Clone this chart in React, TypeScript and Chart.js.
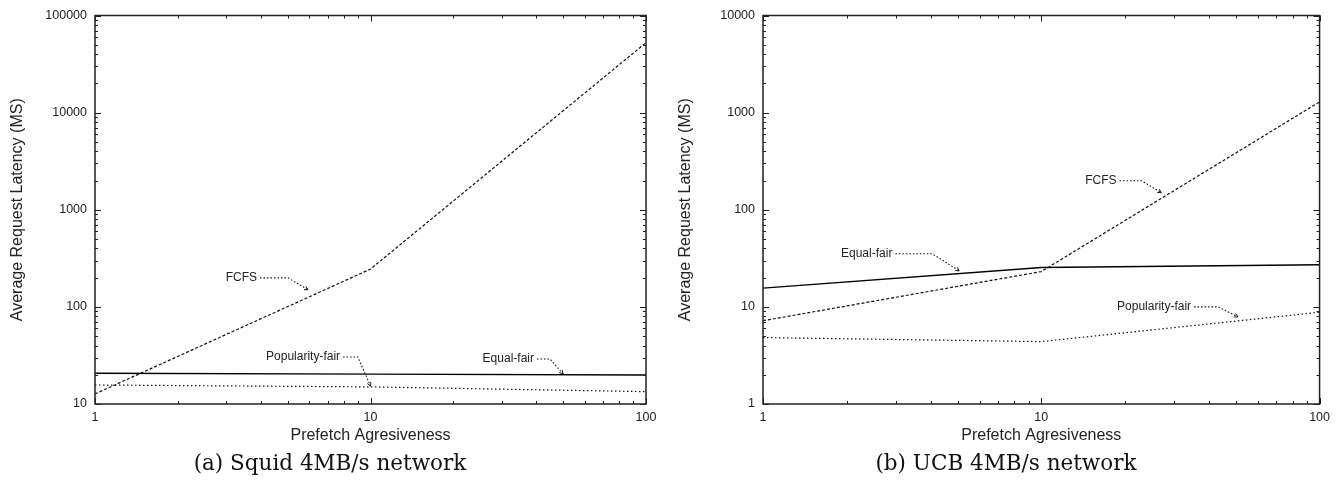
import React, { useEffect, useRef } from 'react';
import { Chart, registerables } from 'chart.js';

Chart.register(...registerables);

// ---- data ----
const xValues = [1, 10, 100];

const squidFCFS = [12.7, 245, 52500];
const squidEqualFair = [20.7, 20.3, 19.9];
const squidPopularityFair = [15.7, 15.0, 13.4];

const ucbFCFS = [7.2, 23.1, 1290];
const ucbEqualFair = [15.6, 25.4, 27.1];
const ucbPopularityFair = [4.83, 4.39, 8.8];

const xTickLabels = ['1', '10', '100'];
const squidYTickLabels = ['10', '100', '1000', '10000', '100000'];
const ucbYTickLabels = ['1', '10', '100', '1000', '10000'];

const seriesNames = ['FCFS', 'Equal-fair', 'Popularity-fair'];

// annotation leaders: label start, elbow, arrow tip (data units)
const squidNotes = [
  { text: 'FCFS', pts: [[3.97, 199], [5.02, 199], [5.93, 150]] },
  { text: 'Popularity-fair', pts: [[7.95, 30.5], [9.0, 30.5], [10, 15.3]] },
  { text: 'Equal-fair', pts: [[40.2, 29.1], [44.8, 29.1], [50, 20.4]] },
];
const ucbNotes = [
  { text: 'Equal-fair', pts: [[2.99, 35.2], [4.06, 35.2], [5.07, 23.5]] },
  { text: 'FCFS', pts: [[19.1, 199], [22.9, 199], [27.0, 150]] },
  { text: 'Popularity-fair', pts: [[35.4, 10], [43.2, 10], [50.9, 7.9]] },
];

const SANS = '"Liberation Sans", Arial, Helvetica, sans-serif';
const SERIF = '"DejaVu Serif", "Liberation Serif", serif';
const INK = '#222';

type Note = { text: string; pts: number[][] };

function makeFramePlugin(notes: Note[]) {
  return {
    id: 'frameTicksNotes',
    afterDatasetsDraw(chart: any) {
      const { ctx, chartArea: a, scales } = chart;
      const xs = scales.x;
      const ys = scales.y;
      ctx.save();
      ctx.strokeStyle = INK;
      ctx.lineWidth = 1.5;
      ctx.strokeRect(a.left, a.top, a.right - a.left, a.bottom - a.top);
      ctx.lineWidth = 1;
      ctx.beginPath();
      const xd0 = Math.round(Math.log10(xs.min));
      const xd1 = Math.round(Math.log10(xs.max));
      for (let d = xd0; d <= xd1; d++) {
        for (let m = 1; m <= 9; m++) {
          const v = m * Math.pow(10, d);
          if (v > xs.max * 1.0001) break;
          const px = Math.round(xs.getPixelForValue(v)) + 0.5;
          const len = m === 1 ? 6 : 3;
          ctx.moveTo(px, a.bottom);
          ctx.lineTo(px, a.bottom - len);
          ctx.moveTo(px, a.top);
          ctx.lineTo(px, a.top + len);
        }
      }
      const yd0 = Math.round(Math.log10(ys.min));
      const yd1 = Math.round(Math.log10(ys.max));
      for (let d = yd0; d <= yd1; d++) {
        for (let m = 1; m <= 9; m++) {
          const v = m * Math.pow(10, d);
          if (v > ys.max * 1.0001) break;
          const py = Math.round(ys.getPixelForValue(v)) + 0.5;
          const len = m === 1 ? 6 : 3;
          ctx.moveTo(a.left, py);
          ctx.lineTo(a.left + len, py);
          ctx.moveTo(a.right, py);
          ctx.lineTo(a.right - len, py);
        }
      }
      ctx.stroke();

      // annotations
      ctx.font = '12px ' + SANS;
      ctx.fillStyle = INK;
      ctx.textAlign = 'right';
      ctx.textBaseline = 'middle';
      notes.forEach((n) => {
        const p = n.pts.map(([vx, vy]) => [xs.getPixelForValue(vx), ys.getPixelForValue(vy)]);
        ctx.fillText(n.text, p[0][0] - 3, p[0][1]);
        ctx.save();
        ctx.setLineDash([1.5, 2]);
        ctx.lineWidth = 1.1;
        ctx.strokeStyle = '#111';
        ctx.beginPath();
        ctx.moveTo(p[0][0], p[0][1]);
        ctx.lineTo(p[1][0], p[1][1]);
        ctx.lineTo(p[2][0], p[2][1]);
        ctx.stroke();
        ctx.restore();
        // small arrow head
        const dx = p[2][0] - p[1][0];
        const dy = p[2][1] - p[1][1];
        const ang = Math.atan2(dy, dx);
        const L = 4;
        ctx.beginPath();
        ctx.moveTo(p[2][0] - L * Math.cos(ang - 0.5), p[2][1] - L * Math.sin(ang - 0.5));
        ctx.lineTo(p[2][0], p[2][1]);
        ctx.lineTo(p[2][0] - L * Math.cos(ang + 0.5), p[2][1] - L * Math.sin(ang + 0.5));
        ctx.strokeStyle = '#111';
        ctx.lineWidth = 1;
        ctx.stroke();
      });
      ctx.restore();
    },
  };
}

type PanelProps = {
  left: number;
  caption: string;
  captionCenter: number;
  fcfs: number[];
  equal: number[];
  pop: number[];
  yMin: number;
  yMax: number;
  yLabels: string[];
  notes: Note[];
  rightPad: number;
};

function Panel(props: PanelProps) {
  const ref = useRef<HTMLCanvasElement>(null);
  useEffect(() => {
    if (!ref.current) return;
    const mk = (vals: number[]) => xValues.map((x, i) => ({ x, y: vals[i] }));
    const chart = new Chart(ref.current, {
      type: 'line',
      data: {
        datasets: [
          {
            label: seriesNames[0],
            data: mk(props.fcfs),
            borderColor: '#111',
            borderWidth: 1.2,
            borderDash: [3, 2],
            pointRadius: 0,
            fill: false,
            tension: 0,
          },
          {
            label: seriesNames[1],
            data: mk(props.equal),
            borderColor: '#000',
            borderWidth: 1.4,
            pointRadius: 0,
            fill: false,
            tension: 0,
          },
          {
            label: seriesNames[2],
            data: mk(props.pop),
            borderColor: '#111',
            borderWidth: 1.2,
            borderDash: [1.5, 2.5],
            pointRadius: 0,
            fill: false,
            tension: 0,
          },
        ],
      } as any,
      options: {
        responsive: false,
        animation: false,
        devicePixelRatio: 1,
        layout: { padding: { top: 15, right: props.rightPad, bottom: 0, left: 0 } },
        plugins: { legend: { display: false }, tooltip: { enabled: false } },
        scales: {
          x: {
            type: 'logarithmic',
            min: 1,
            max: 100,
            grid: { display: false, drawTicks: false },
            border: { display: false },
            ticks: {
              autoSkip: false,
              maxRotation: 0,
              padding: 6,
              color: INK,
              font: { family: SANS, size: 12.5 },
              callback: (v: any) => {
                const s = String(Number(v));
                return xTickLabels.includes(s) ? s : '';
              },
            },
            title: {
              display: true,
              text: 'Prefetch Agresiveness',
              color: INK,
              font: { family: SANS, size: 16 },
              padding: { top: 0, bottom: 36 },
            },
            afterFit: (s: any) => {
              s.height = 77;
            },
          },
          y: {
            type: 'logarithmic',
            min: props.yMin,
            max: props.yMax,
            grid: { display: false, drawTicks: false },
            border: { display: false },
            ticks: {
              autoSkip: false,
              padding: 8,
              color: INK,
              font: { family: SANS, size: 12.5 },
              callback: (v: any) => {
                const s = String(Number(v));
                return props.yLabels.includes(s) ? s : '';
              },
            },
            title: {
              display: true,
              text: 'Average Request Latency (MS)',
              color: INK,
              font: { family: SANS, size: 16 },
              padding: { top: 8, bottom: 0 },
            },
            afterFit: (s: any) => {
              s.width = 95;
            },
          },
        },
      } as any,
      plugins: [makeFramePlugin(props.notes)],
    });
    return () => chart.destroy();
  }, []);
  return (
    <div style={{ position: 'absolute', left: props.left, top: 0, width: 668, height: 481 }}>
      <canvas ref={ref} width={668} height={481} style={{ display: 'block', width: 668, height: 481 }} />
      <div
        style={{
          position: 'absolute',
          left: props.captionCenter - 250,
          width: 500,
          top: 449,
          textAlign: 'center',
          fontFamily: SERIF,
          fontSize: 21.5,
          lineHeight: '28px',
          color: '#111',
          whiteSpace: 'nowrap',
        }}
      >
        {props.caption}
      </div>
    </div>
  );
}

export default function App() {
  return (
    <div style={{ position: 'fixed', left: 0, top: 0, width: 1336, height: 481, background: '#fff' }}>
      <Panel
        left={0}
        caption="(a) Squid 4MB/s network"
        captionCenter={330}
        fcfs={squidFCFS}
        equal={squidEqualFair}
        pop={squidPopularityFair}
        yMin={10}
        yMax={100000}
        yLabels={squidYTickLabels}
        notes={squidNotes}
        rightPad={22}
      />
      <Panel
        left={668}
        caption="(b) UCB 4MB/s network"
        captionCenter={338}
        fcfs={ucbFCFS}
        equal={ucbEqualFair}
        pop={ucbPopularityFair}
        yMin={1}
        yMax={10000}
        yLabels={ucbYTickLabels}
        notes={ucbNotes}
        rightPad={14}
      />
    </div>
  );
}
